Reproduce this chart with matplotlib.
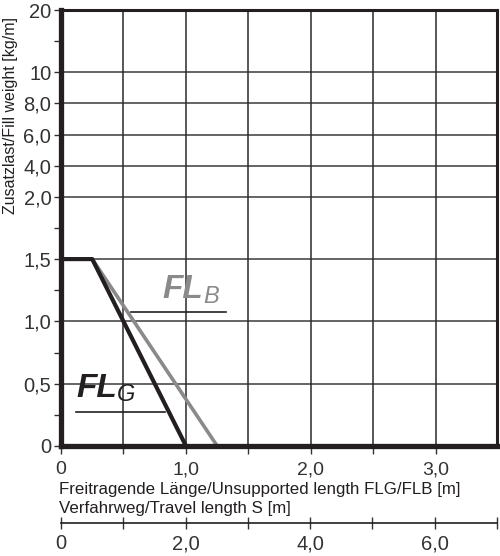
import matplotlib
matplotlib.use("Agg")
import matplotlib.pyplot as plt
import numpy as np

# Kurven FLG / FLB
flg_x = [0, 0.25, 1.0]
flg_y = [1.5, 1.5, 0]
flb_x = [0, 0.25, 1.25]
flb_y = [1.5, 1.5, 0]

# y-Achse ist nicht linear: Stuetzstellen Wert -> Position
y_vals = [0, 1.5, 2.0, 4.0, 6.0, 8.0, 10, 20]
y_pos = [0, 6, 8, 9, 10, 11, 12, 14]
y_ticks = [0, 0.5, 1.0, 1.5, 2.0, 4.0, 6.0, 8.0, 10, 20]
y_ticklabels = ['0', '0,5', '1,0', '1,5', '2,0', '4,0', '6,0', '8,0', '10', '20']
y_minor = [0.25, 0.75, 1.25, 1.75, 15]

x_ticks = [0, 1, 2, 3]
x_ticklabels = ['0', '1,0', '2,0', '3,0']
x_minor = [0.5, 1.5, 2.5]

s_ticks = [0, 2, 4, 6]
s_ticklabels = ['0', '2,0', '4,0', '6,0']
s_minor = [1, 3, 5, 7]

plt.rcParams['font.family'] = ['Liberation Sans', 'DejaVu Sans']


def fwd(v):
    return np.interp(v, y_vals, y_pos)


def inv(p):
    return np.interp(p, y_pos, y_vals)


fig = plt.figure(figsize=(5, 5.56), dpi=100)
ax = fig.add_axes([0.122, 0.198, 0.872, 0.784])
ax.set_yscale('function', functions=(fwd, inv))
ax.set_xlim(0, 3.49)
ax.set_ylim(0, 20)

ax.set_yticks(y_ticks)
ax.set_yticklabels(y_ticklabels)
ax.set_yticks(y_minor, minor=True)
ax.set_xticks(x_ticks)
ax.set_xticklabels(x_ticklabels)
ax.set_xticks(x_minor, minor=True)

ax.tick_params(axis='y', which='both', direction='out', length=5, width=1, pad=2,
               labelsize=14.5, colors='#333333')
ax.tick_params(axis='x', which='both', direction='out', length=6, width=1, pad=5,
               labelsize=14, colors='#333333')

# Raster
for v in y_ticks[1:-1]:
    ax.axhline(v, color='#3a3a3a', lw=1.1, zorder=1)
for v in x_minor + x_ticks[1:]:
    ax.axvline(v, color='#2a2a2a', lw=1.1, zorder=1)

ax.plot(flb_x, flb_y, color='#8a8a8a', lw=2.6, zorder=3, solid_capstyle='butt')
ax.plot(flg_x, flg_y, color='#231f20', lw=3.0, zorder=4, solid_capstyle='butt')

ax.spines['left'].set_linewidth(3.8)
ax.spines['bottom'].set_linewidth(3.8)
ax.spines['top'].set_linewidth(2.2)
ax.spines['right'].set_linewidth(2.2)
for s in ax.spines.values():
    s.set_color('#231f20')
    s.set_zorder(5)

# Beschriftung FLG / FLB
ax.text(0.125, 0.393, 'FL', fontsize=24, fontweight='bold', fontstyle='italic',
        color='#231f20', va='baseline')
ax.text(0.45, 0.36, 'G', fontsize=17, fontstyle='italic', color='#231f20', va='baseline')
ax.plot([0.12, 0.83], [0.273, 0.273], color='#231f20', lw=1.2, zorder=3)

ax.text(0.81, 1.19, 'FL', fontsize=24, fontweight='bold', fontstyle='italic',
        color='#8a8a8a', va='baseline')
ax.text(1.14, 1.15, 'B', fontsize=17, fontstyle='italic', color='#8a8a8a', va='baseline')
ax.plot([0.56, 1.32], [1.076, 1.076], color='#231f20', lw=1.2, zorder=3)

fig.text(0.022, 1 - 116 / 556, 'Zusatzlast/Fill weight [kg/m]', rotation=90, fontsize=11.5,
         ha='center', va='center', color='#231f20')
fig.text(0.118, 1 - 494 / 556, 'Freitragende Länge/Unsupported length FLG/FLB [m]',
         fontsize=12.2, color='#231f20', va='baseline')
fig.text(0.118, 1 - 513 / 556, 'Verfahrweg/Travel length S [m]',
         fontsize=12.2, color='#231f20', va='baseline')

# zweite Achse: Verfahrweg
ax2 = fig.add_axes([0.122, 1 - 523 / 556, 0.872, 0.001])
ax2.set_xlim(0, 6.98)
ax2.set_ylim(0, 1)
for k in ['top', 'left', 'right']:
    ax2.spines[k].set_visible(False)
ax2.spines['bottom'].set_linewidth(1.2)
ax2.spines['bottom'].set_color('#231f20')
ax2.set_yticks([])
ax2.set_xticks(s_ticks)
ax2.set_xticklabels(s_ticklabels)
ax2.set_xticks(s_minor, minor=True)
ax2.tick_params(axis='x', which='both', direction='inout', length=8, width=1, pad=4,
                labelsize=14.5, colors='#333333')
ax2.patch.set_visible(False)

fig.savefig('out.png', dpi=100)
